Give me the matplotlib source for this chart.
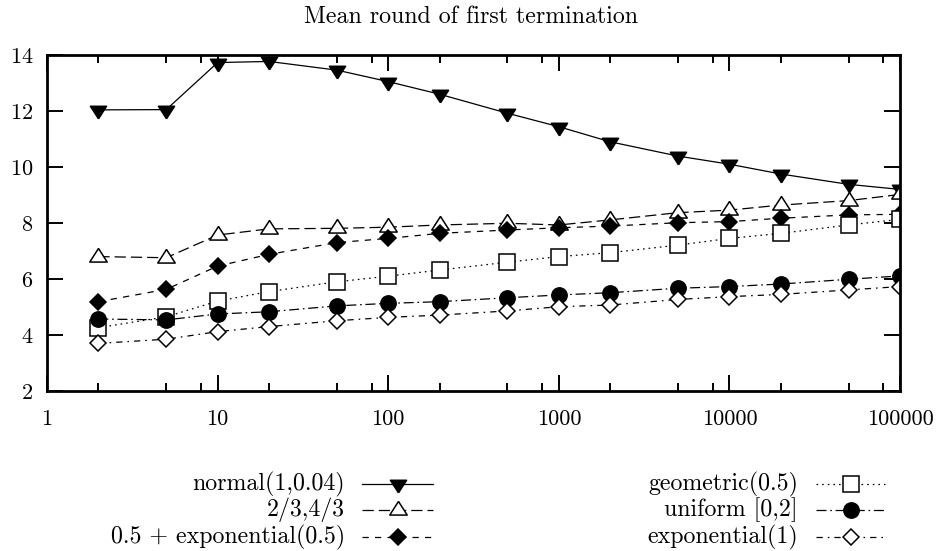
"""Mean round of first termination -- gnuplot style log-x line chart."""

import matplotlib

matplotlib.use("Agg")

import matplotlib.pyplot as plt
from matplotlib.ticker import FixedLocator, FixedFormatter, NullFormatter

# ---------------------------------------------------------------------------
# Data
# ---------------------------------------------------------------------------

n_values = [2, 5, 10, 20, 50, 100, 200, 500, 1000, 2000, 5000, 10000, 20000, 50000, 100000]

normal = [12.04, 12.05, 13.73, 13.77, 13.46, 13.05, 12.60, 11.92, 11.44, 10.90,
          10.39, 10.10, 9.75, 9.38, 9.20]
two_thirds = [6.80, 6.76, 7.57, 7.79, 7.81, 7.85, 7.93, 7.99, 7.93, 8.11,
              8.37, 8.46, 8.64, 8.80, 9.02]
half_plus_exp = [5.19, 5.63, 6.46, 6.88, 7.30, 7.45, 7.63, 7.75, 7.83, 7.89,
                 8.01, 8.05, 8.17, 8.29, 8.31]
geometric = [4.26, 4.65, 5.21, 5.55, 5.90, 6.10, 6.32, 6.60, 6.80, 6.94,
             7.21, 7.45, 7.63, 7.93, 8.13]
uniform = [4.57, 4.54, 4.75, 4.83, 5.04, 5.13, 5.19, 5.33, 5.43, 5.51,
           5.67, 5.73, 5.82, 5.99, 6.11]
exponential = [3.70, 3.85, 4.12, 4.30, 4.51, 4.63, 4.71, 4.86, 5.01, 5.07,
               5.27, 5.37, 5.45, 5.61, 5.73]

x_major = [1, 10, 100, 1000, 10000, 100000]
x_labels = ["1", "10", "100", "1000", "10000", "100000"]
x_minor = [2, 5, 8, 20, 50, 80, 200, 500, 800, 2000, 5000, 8000, 20000, 50000, 80000]
y_major = [2, 4, 6, 8, 10, 12, 14]

# gnuplot-like triangles: wider than tall, centred on the centroid
TRI_UP = [(0, 9.3), (-9, -4.7), (9, -4.7), (0, 9.3)]
TRI_DOWN = [(0, -9.3), (-9, 4.7), (9, 4.7), (0, -9.3)]

# label, values, marker, size, filled, dashes, legend column, legend row
SERIES = [
    ("normal(1,0.04)", normal, TRI_DOWN, 12.0, True, None, 0, 0),
    ("2/3,4/3", two_thirds, TRI_UP, 13.0, False, (9, 4), 0, 1),
    ("0.5 + exponential(0.5)", half_plus_exp, "D", 7.8, True, (5, 5), 0, 2),
    ("geometric(0.5)", geometric, "s", 12.0, False, (1.3, 3.2), 1, 0),
    ("uniform [0,2]", uniform, "o", 11.0, True, (8, 3, 1.3, 3), 1, 1),
    ("exponential(1)", exponential, "D", 8.1, False, (5, 4, 1.3, 4), 1, 2),
]

TICK_SIZE = 16
TEXT_SIZE = 17.2

plt.rcParams.update(
    {
        "font.family": "serif",
        "font.serif": ["cmr10", "DejaVu Serif"],
        "mathtext.fontset": "cm",
        "axes.unicode_minus": False,
        "axes.formatter.use_mathtext": True,
        "font.size": TICK_SIZE,
    }
)

fig = plt.figure(figsize=(9.36, 5.51), dpi=100)
ax = fig.add_axes([47 / 936, 1 - 391 / 551, 853 / 936, 336 / 551])


def style_kwargs(marker, size, filled, dashes):
    kw = dict(
        color="black",
        linewidth=0.9,
        marker=marker,
        markersize=size,
        markeredgecolor="black",
        markeredgewidth=1.1,
        markerfacecolor="black" if filled else "white",
    )
    if dashes is None:
        kw["linestyle"] = "-"
    else:
        kw["linestyle"] = (0, dashes)
    return kw


for label, values, marker, size, filled, dashes, col, row in SERIES:
    ax.plot(n_values, values, label=label, **style_kwargs(marker, size, filled, dashes))

ax.set_xscale("log")
ax.set_xlim(1, 100000)
ax.set_ylim(2, 14)

ax.xaxis.set_major_locator(FixedLocator(x_major))
ax.xaxis.set_major_formatter(FixedFormatter(x_labels))
ax.xaxis.set_minor_locator(FixedLocator(x_minor))
ax.xaxis.set_minor_formatter(NullFormatter())
ax.yaxis.set_major_locator(FixedLocator(y_major))
ax.yaxis.set_minor_locator(FixedLocator([]))

ax.tick_params(which="both", direction="in", top=True, right=True, width=1.4,
               labelsize=TICK_SIZE)
ax.tick_params(which="major", length=11.5)
ax.tick_params(which="minor", length=5.8)
ax.tick_params(axis="x", which="major", pad=13)
ax.tick_params(axis="y", which="major", pad=10)
for spine in ax.spines.values():
    spine.set_linewidth(2.0)

fig.text(471 / 936, 1 - 17 / 551, "Mean round of first termination",
         ha="center", va="center", fontsize=TEXT_SIZE)

# --- Legend drawn by hand, gnuplot style: right aligned text, sample after ---
lax = fig.add_axes([0, 0, 1, 1])
lax.set_xlim(0, 936)
lax.set_ylim(551, 0)
lax.set_axis_off()

legend_cols = [(345, 362, 433), (798, 816, 885)]
legend_rows = [484, 510, 537]

for label, values, marker, size, filled, dashes, col, row in SERIES:
    text_right, line_start, line_end = legend_cols[col]
    y = legend_rows[row]
    lax.text(text_right, y, label, ha="right", va="center", fontsize=TEXT_SIZE)
    kw = style_kwargs(marker, size, filled, dashes)
    lax.plot([line_start, (line_start + line_end) / 2, line_end], [y, y, y],
             markevery=[1], **kw)

fig.savefig("out.png", dpi=100)
